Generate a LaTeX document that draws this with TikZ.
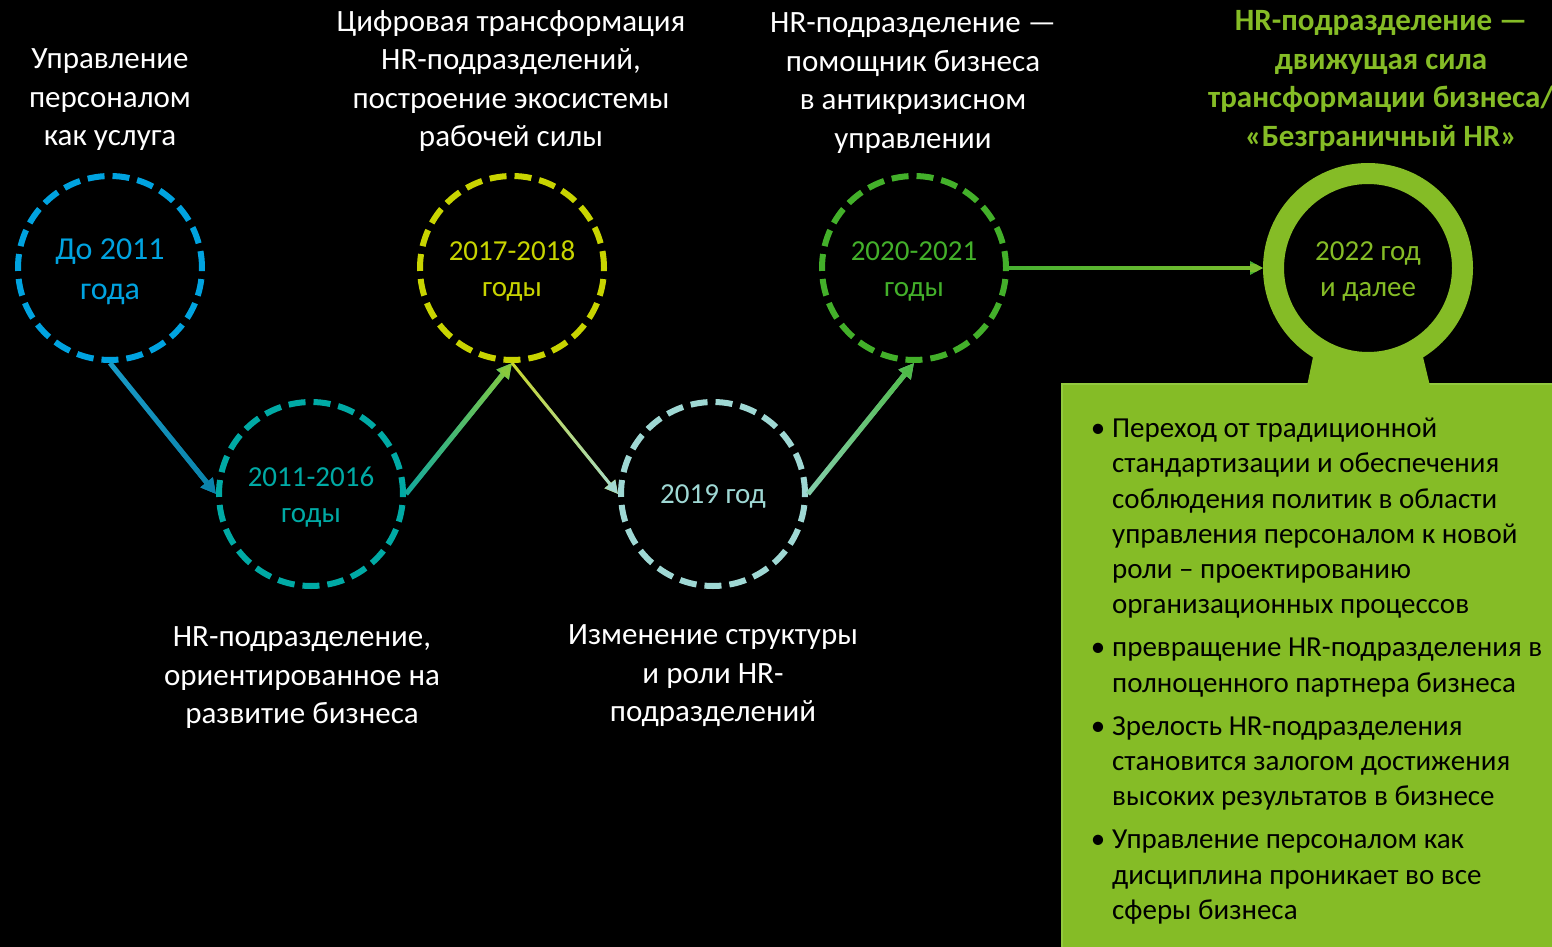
\documentclass[tikz,border=0pt]{standalone}
\usepackage{fontspec}
\setmainfont{Carlito}
\usetikzlibrary{arrows.meta,fadings}
\definecolor{cA}{HTML}{00A3E0}
\definecolor{cB}{HTML}{00AAA5}
\definecolor{cC}{HTML}{C8D400}
\definecolor{cD}{HTML}{9FD8D4}
\definecolor{cE}{HTML}{43B02A}
\definecolor{cF}{HTML}{85BC26}
\definecolor{cFline}{HTML}{93C93F}
\definecolor{aAB1}{HTML}{1A9CC8}
\definecolor{aAB2}{HTML}{0A82AA}
\definecolor{aBC1}{HTML}{10A8A0}
\definecolor{aBC2}{HTML}{8CCB3A}
\definecolor{aCD1}{HTML}{C8D62A}
\definecolor{aCD2}{HTML}{A2DAD6}
\definecolor{aDE1}{HTML}{86CFAE}
\definecolor{aDE2}{HTML}{4DBA45}
\definecolor{aEF1}{HTML}{48B132}
\definecolor{aEF2}{HTML}{7DBF2E}
\tikzfading[name=fadeR, left color=transparent!100, right color=transparent!0]
\newcommand\tpad[1]{\rule{0pt}{#1}}
\begin{document}
\begin{tikzpicture}[x=1pt,y=-1pt,
  stage/.style={circle, draw, line width=6pt, dash pattern=on 17pt off 8pt,
    minimum size=184pt, inner sep=0pt, align=center,
    font=\fontsize{29}{36}\selectfont},
  lbl/.style={text=white, align=center, inner sep=0pt,
    font=\fontsize{31}{38.5}\selectfont},
  conn/.style={-{Triangle[length=15pt,width=15pt]}},
  fade/.style={path fading=fadeR}
]
\useasboundingbox (0,0) rectangle (1552,947);
\fill[black] (0,0) rectangle (1552,947);

% stages
\node[stage, draw=cA, text=cA, font=\fontsize{32}{40}\selectfont] (c1) at (110,268) {\tpad{29pt}До 2011\\года};
\node[stage, draw=cB, text=cB] (c2) at (311,494) {\tpad{26.5pt}2011-2016\\годы};
\node[stage, draw=cC, text=cC] (c3) at (512,268) {\tpad{26.5pt}2017-2018\\годы};
\node[stage, draw=cD, text=cD] (c4) at (713,494) {\tpad{24.5pt}2019 год};
\node[stage, draw=cE, text=cE] (c5) at (914,268) {\tpad{26.5pt}2020-2021\\годы};

% final box, stem and ring
\draw[fill=cF, draw=cFline, line width=2pt] (1062,384) rectangle (1580,980);
\fill[cF] (1313,357) -- (1423,357) -- (1430,386) -- (1307,386) -- cycle;
\node[circle, draw=cF, line width=21pt, minimum size=189pt, inner sep=0pt,
  align=center, text=cF, font=\fontsize{29}{36}\selectfont] (c6) at (1368,268) {\tpad{26.5pt}2022 год\\и далее};

% connectors
\draw[conn, aAB1, line width=5pt] (c1.south) -- (c2.west);
\draw[conn, aAB2, line width=5pt, fade] (c1.south) -- (c2.west);
\draw[conn, aBC1, line width=5pt] (c2.east) -- (c3.south);
\draw[conn, aBC2, line width=5pt, fade] (c2.east) -- (c3.south);
\draw[conn, aCD1, line width=3pt, -{Triangle[length=13pt,width=13pt]}] (c3.south) -- (c4.west);
\draw[conn, aCD2, line width=3pt, -{Triangle[length=13pt,width=13pt]}, fade] (c3.south) -- (c4.west);
\draw[conn, aDE1, line width=5pt] (c4.east) -- (c5.south);
\draw[conn, aDE2, line width=5pt, fade] (c4.east) -- (c5.south);
\draw[conn, aEF1, line width=3.5pt, -{Triangle[length=13pt,width=13pt]}] (c5.east) -- (c6.west);
\draw[conn, aEF2, line width=3.5pt, -{Triangle[length=13pt,width=13pt]}, fade] (c5.east) -- (c6.west);

% labels
\node[lbl] (t1) at (110,100) {Управление\\персоналом\\как услуга};
\node[lbl] (t2) at (511,81) {Цифровая трансформация\\HR-подразделений,\\построение экосистемы\\рабочей силы};
\node[lbl] (t3) at (913,83) {HR-подразделение —\\помощник бизнеса\\в антикризисном\\управлении};
\node[lbl, text=cF, font=\fontsize{31}{38.5}\selectfont\bfseries] (t4) at (1381,81) {HR-подразделение —\\движущая сила\\трансформации бизнеса/\\«Безграничный HR»};
\node[lbl] (b1) at (302,678) {HR-подразделение,\\ориентированное на\\развитие бизнеса};
\node[lbl] (b2) at (713,676) {Изменение структуры\\и роли HR-\\подразделений};

% bullet list
\node[anchor=north west, align=left, inner sep=0pt, text=black,
  font=\fontsize{29}{35.2}\selectfont] (list) at (1112,418) {%
\llap{•\hspace{7pt}}Переход от традиционной\\
стандартизации и обеспечения\\
соблюдения политик в области\\
управления персоналом к новой\\
роли – проектированию\\
организационных процессов\\[8pt]
\llap{•\hspace{7pt}}превращение HR-подразделения в\\
полноценного партнера бизнеса\\[8pt]
\llap{•\hspace{7pt}}Зрелость HR-подразделения\\
становится залогом достижения\\
высоких результатов в бизнесе\\[8pt]
\llap{•\hspace{7pt}}Управление персоналом как\\
дисциплина проникает во все\\
сферы бизнеса};
\end{tikzpicture}
\end{document}
